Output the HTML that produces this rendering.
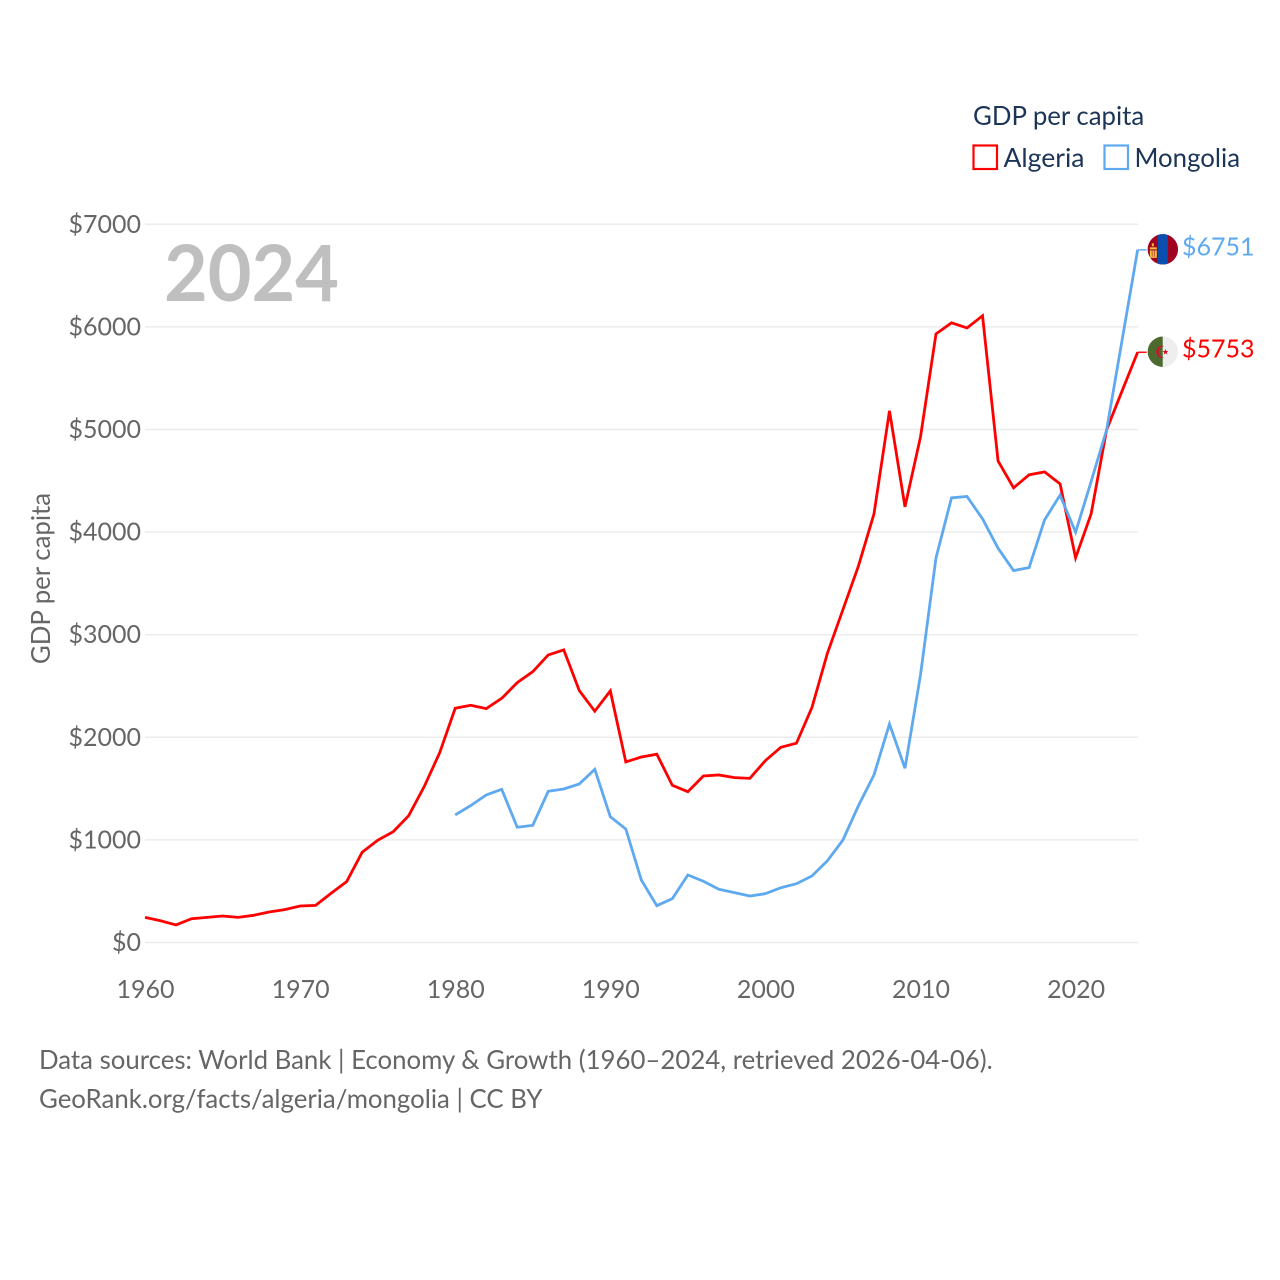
<!DOCTYPE html>
<html lang="en">
<head>
<meta charset="utf-8">
<title>GDP per capita: Algeria and Mongolia</title>
<style>
html,body{margin:0;padding:0;background:#fff;width:1280px;height:1280px;overflow:hidden}
svg{display:block}
text{font-family:"Lato","Carlito","Liberation Sans",sans-serif}
</style>
</head>
<body>
<svg id="chart" xmlns="http://www.w3.org/2000/svg" width="1280" height="1280" viewBox="0 0 1280 1280">
  <rect width="1280" height="1280" fill="#fff"/>
  <g id="grid"></g>
  <g id="yticks"></g>
  <g id="xticks"></g>
  <text transform="translate(50,578.5) rotate(-90)" text-anchor="middle" font-size="25.8" fill="#666">GDP per capita</text>
  <text x="164" y="301" font-size="78" font-weight="700" fill="#bfbfbf" textLength="175" lengthAdjust="spacingAndGlyphs">2024</text>
  <g id="series"></g>
  <defs>
    <clipPath id="flag-clip-mongolia"><circle cx="0" cy="0" r="15.2"/></clipPath>
    <clipPath id="flag-clip-algeria"><circle cx="0" cy="0" r="15.2"/></clipPath>
  </defs>
  <g id="flag-mongolia" clip-path="url(#flag-clip-mongolia)">
    <rect x="-16" y="-16" width="32" height="32" fill="#a0031f"/>
    <rect x="-5" y="-16" width="10" height="32" fill="#0a4fb0"/>
    <rect x="-11" y="-6" width="2" height="3" fill="#f0c040"/>
    <rect x="-13" y="-2" width="7" height="2" fill="#f0c040"/>
    <rect x="-13" y="1" width="2" height="6" fill="#f0c040"/>
    <rect x="-8" y="1" width="2" height="6" fill="#f0c040"/>
    <rect x="-10.5" y="1" width="2" height="6" fill="#e8b848"/>
    <rect x="-13" y="7" width="7" height="1.5" fill="#f0c040"/>
  </g>
  <g id="flag-algeria" clip-path="url(#flag-clip-algeria)">
    <rect x="-16" y="-16" width="16" height="32" fill="#4d6a2e"/>
    <rect x="0" y="-16" width="16" height="32" fill="#eeeeee"/>
    <path d="M1.5 -5.6 A6 6 0 1 0 1.5 5.6 A4.6 4.6 0 1 1 1.5 -5.6Z" fill="#d2102c"/>
    <polygon points="2.6,-3 3.4,-0.8 5.6,-0.8 3.9,0.6 4.5,2.8 2.6,1.5 0.7,2.8 1.3,0.6 -0.4,-0.8 1.8,-0.8" fill="#d2102c"/>
  </g>
  <g id="end-labels"></g>
  <g>
    <text x="973" y="125" font-size="25.8" fill="#1c3557">GDP per capita</text>
    <rect x="973.5" y="145.5" width="23.5" height="23.5" fill="none" stroke="#ff0000" stroke-width="2.2"/>
    <text x="1003.5" y="167" font-size="25.8" fill="#1c3557" textLength="81" lengthAdjust="spacingAndGlyphs">Algeria</text>
    <rect x="1104.5" y="145.5" width="23.5" height="23.5" fill="none" stroke="#5ea9ef" stroke-width="2.2"/>
    <text x="1134.5" y="167" font-size="25.8" fill="#1c3557">Mongolia</text>
  </g>
  <g>
    <text x="39" y="1069" font-size="25.8" fill="#666">Data sources: World Bank | Economy &amp; Growth (1960–2024, retrieved 2026-04-06).</text>
    <text x="39" y="1108" font-size="25.8" fill="#666">GeoRank.org/facts/algeria/mongolia | CC BY</text>
  </g>
</svg>
<script>
const years = [1960,1961,1962,1963,1964,1965,1966,1967,1968,1969,1970,1971,1972,1973,1974,1975,1976,1977,1978,1979,1980,1981,1982,1983,1984,1985,1986,1987,1988,1989,1990,1991,1992,1993,1994,1995,1996,1997,1998,1999,2000,2001,2002,2003,2004,2005,2006,2007,2008,2009,2010,2011,2012,2013,2014,2015,2016,2017,2018,2019,2020,2021,2022,2023,2024];
const algeria = [245,212,171,232,245,258,245,265,297,320,356,362,480,593,879,996,1080,1236,1519,1850,2283,2312,2279,2380,2533,2640,2803,2852,2455,2254,2452,1760,1808,1835,1532,1470,1623,1633,1607,1600,1773,1903,1942,2290,2820,3245,3670,4177,5182,4246,4928,5932,6040,5990,6108,4694,4431,4558,4587,4470,3749,4177,4997,5377,5753];
const mongolia = [null,null,null,null,null,null,null,null,null,null,null,null,null,null,null,null,null,null,null,null,1243,1334,1438,1493,1123,1142,1474,1496,1545,1688,1226,1106,609,359,427,658,597,519,486,453,476,534,573,648,797,999,1334,1633,2130,1698,2608,3750,4334,4347,4129,3843,3625,3654,4119,4360,3999,4492,4997,5873,6751];
const yTickValues = [0,1000,2000,3000,4000,5000,6000,7000];
const xTickValues = [1960,1970,1980,1990,2000,2010,2020];

const NS = 'http://www.w3.org/2000/svg';
const xScale = function (year) { return 145 + (year - 1960) * 15.51; };
const yScale = function (value) { return 942.5 - value * 0.1026; };
const gridLayer = document.getElementById('grid');
const yLayer = document.getElementById('yticks');
const xLayer = document.getElementById('xticks');
const seriesLayer = document.getElementById('series');
const endLayer = document.getElementById('end-labels');

yTickValues.forEach(function (value) {
  const line = document.createElementNS(NS, 'line');
  
  
  line.setAttribute('x1', 145);
  line.setAttribute('x2', 1138);
  line.setAttribute('y1', yScale(value));
  line.setAttribute('y2', yScale(value));
  line.setAttribute('stroke', '#ececec');
  line.setAttribute('stroke-width', 1.5);
  gridLayer.appendChild(line);

  const label = document.createElementNS(NS, 'text');
  
  
  label.setAttribute('x', 141);
  label.setAttribute('y', yScale(value) + 8.5);
  label.setAttribute('text-anchor', 'end');
  label.setAttribute('font-size', 25);
  label.setAttribute('fill', '#666');
  label.textContent = '$' + value;
  yLayer.appendChild(label);
});

xTickValues.forEach(function (year) {
  const label = document.createElementNS(NS, 'text');
  
  
  label.setAttribute('x', xScale(year) + 0.5);
  label.setAttribute('y', 998);
  label.setAttribute('text-anchor', 'middle');
  label.setAttribute('font-size', 25);
  label.setAttribute('fill', '#666');
  label.textContent = year;
  xLayer.appendChild(label);
});

function drawSeries(values, color, lineName, stubName, labelName, flagId) {
  const parts = [];
  let lastIndex = 0;
  values.forEach(function (value, i) {
    if (value === null) { return; }
    parts.push(xScale(years[i]).toFixed(2) + ',' + yScale(value).toFixed(2));
    lastIndex = i;
  });
  const endX = xScale(years[lastIndex]);
  const endY = yScale(values[lastIndex]);

  const path = document.createElementNS(NS, 'polyline');
  
  
  path.setAttribute('points', parts.join(' '));
  path.setAttribute('fill', 'none');
  path.setAttribute('stroke', color);
  path.setAttribute('stroke-width', 2.8);
  path.setAttribute('stroke-linejoin', 'miter');
  seriesLayer.appendChild(path);

  const stub = document.createElementNS(NS, 'line');
  
  
  stub.setAttribute('x1', endX);
  stub.setAttribute('x2', endX + 9);
  stub.setAttribute('y1', endY);
  stub.setAttribute('y2', endY);
  stub.setAttribute('stroke', color);
  stub.setAttribute('stroke-width', 1.4);
  seriesLayer.appendChild(stub);

  document.getElementById(flagId).setAttribute('transform', 'translate(' + (endX + 25.2) + ',' + (endY - 0.5) + ')');

  const label = document.createElementNS(NS, 'text');
  
  
  label.setAttribute('x', 1182);
  label.setAttribute('y', endY + 5.5);
  label.setAttribute('font-size', 25);
  label.setAttribute('fill', color);
  label.textContent = '$' + values[lastIndex];
  endLayer.appendChild(label);
}

drawSeries(algeria, '#ff0000', 'algeria-line', 'algeria-end-connector', 'algeria-end-value', 'flag-algeria');
drawSeries(mongolia, '#5ea9ef', 'mongolia-line', 'mongolia-end-connector', 'mongolia-end-value', 'flag-mongolia');
</script>
</body>
</html>
